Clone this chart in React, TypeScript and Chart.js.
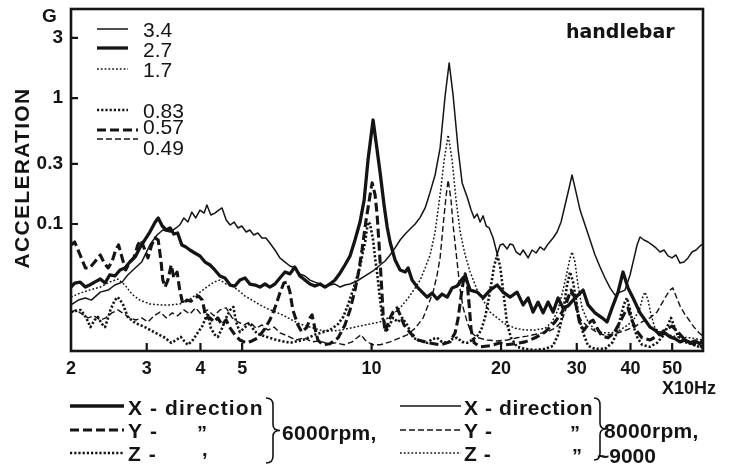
import { useEffect, useRef } from "react";
import { Chart, registerables } from "chart.js";

Chart.register(...registerables);

// Axis tick values (frequency in x10 Hz, acceleration in G)
const xTicks = [2, 3, 4, 5, 10, 20, 30, 40, 50];
const yTicks = [0.1, 0.3, 1, 3];

// 6000 rpm, X-direction (thick solid)
const x6000Freq = [2.00,2.04,2.10,2.16,2.21,2.27,2.34,2.40,2.46,2.53,2.60,2.67,2.74,2.82,2.89,2.97,3.05,3.14,3.19,3.26,3.33,3.40,3.47,3.54,3.62,3.70,3.78,3.88,3.99,4.10,4.21,4.32,4.44,4.56,4.69,4.81,4.94,5.08,5.21,5.36,5.50,5.65,5.80,5.96,6.12,6.29,6.46,6.63,6.81,7.00,7.19,7.38,7.59,7.79,8.00,8.22,8.45,8.67,8.91,9.15,9.40,9.61,9.81,10.08,10.30,10.47,10.69,10.87,11.04,11.34,11.65,11.97,12.16,12.42,12.77,13.11,13.46,13.83,14.20,14.58,14.99,15.39,15.81,16.24,16.50,16.95,17.60,18.17,18.86,19.59,20.22,20.99,21.79,22.51,23.12,23.74,24.39,25.05,25.72,26.42,27.14,27.87,28.64,29.41,30.20,31.03,31.87,33.08,34.35,35.28,36.24,37.42,38.43,39.47,40.55,42.09,43.24,44.41,45.61,46.85,48.12,49.42,50.76,52.14,53.55,55.01,56.50,58.03,58.97];
const x6000Acc = [0.0316,0.0340,0.0346,0.0316,0.0328,0.0346,0.0366,0.0340,0.0394,0.0387,0.0432,0.0448,0.0499,0.0548,0.0646,0.0747,0.0864,0.1037,0.1117,0.0964,0.0896,0.0930,0.0833,0.0849,0.0682,0.0657,0.0622,0.0589,0.0558,0.0499,0.0473,0.0432,0.0387,0.0373,0.0328,0.0322,0.0359,0.0373,0.0334,0.0328,0.0316,0.0334,0.0316,0.0334,0.0373,0.0416,0.0402,0.0456,0.0387,0.0359,0.0334,0.0322,0.0334,0.0316,0.0334,0.0359,0.0409,0.0473,0.0558,0.0747,0.1037,0.155,0.322,0.669,0.387,0.254,0.1416,0.0947,0.0720,0.0518,0.0432,0.0416,0.0448,0.0359,0.0316,0.0288,0.0263,0.0283,0.0254,0.0278,0.0263,0.0311,0.0322,0.0366,0.0387,0.0299,0.0288,0.0259,0.0299,0.0328,0.0288,0.0263,0.0288,0.0228,0.0259,0.0200,0.0240,0.0197,0.0240,0.0200,0.0259,0.0216,0.0224,0.0249,0.0273,0.0299,0.0228,0.0197,0.0180,0.0167,0.0216,0.0288,0.0416,0.0311,0.0259,0.0197,0.0173,0.0152,0.0144,0.0132,0.0136,0.0127,0.0123,0.0116,0.0120,0.0114,0.0118,0.0112,0.0120];

// 6000 rpm, Y-direction (thick dashed)
const y6000Freq = [2.00,2.04,2.10,2.16,2.21,2.27,2.34,2.39,2.44,2.49,2.54,2.58,2.63,2.68,2.74,2.80,2.86,2.91,2.97,3.02,3.08,3.14,3.19,3.24,3.27,3.31,3.36,3.42,3.47,3.53,3.58,3.64,3.72,3.80,3.88,3.96,4.04,4.12,4.21,4.30,4.39,4.49,4.59,4.69,4.81,4.94,5.11,5.27,5.44,5.62,5.80,5.96,6.12,6.25,6.36,6.46,6.56,6.74,6.88,7.08,7.19,7.27,7.38,7.50,7.71,8.00,8.36,8.67,8.91,9.15,9.30,9.50,9.71,9.92,10.03,10.19,10.30,10.41,10.53,10.64,10.75,11.04,11.28,11.46,11.65,11.90,12.29,12.83,13.54,14.43,15.22,15.64,15.90,16.16,16.33,16.50,16.68,16.86,17.04,17.32,17.88,18.86,19.90,20.44,21.56,22.75,24.00,25.32,26.71,27.73,28.48,29.10,29.57,30.04,30.53,31.19,32.21,32.73,33.44,34.35,35.47,36.63,37.82,38.85,39.47,40.12,41.21,42.54,44.41,46.10,48.12,49.95,51.58,53.55,55.90,58.97];
const y6000Acc = [0.0682,0.0720,0.0568,0.0448,0.0448,0.0499,0.0568,0.0490,0.0448,0.0499,0.0622,0.0682,0.0538,0.0432,0.0499,0.0538,0.0682,0.0747,0.0622,0.0538,0.0682,0.0775,0.0747,0.0499,0.0359,0.0316,0.0359,0.0473,0.0373,0.0416,0.0299,0.0232,0.0249,0.0244,0.0259,0.0268,0.0249,0.0180,0.0180,0.0167,0.0180,0.0158,0.0173,0.0149,0.0132,0.0120,0.0114,0.0118,0.0125,0.0144,0.0173,0.0216,0.0283,0.0340,0.0346,0.0288,0.0208,0.0158,0.0139,0.0152,0.0180,0.0190,0.0149,0.0120,0.0110,0.0112,0.0125,0.0158,0.0208,0.0299,0.0394,0.0622,0.1076,0.170,0.212,0.170,0.118,0.0682,0.0359,0.0190,0.0139,0.0180,0.0208,0.0216,0.0190,0.0158,0.0137,0.0120,0.0114,0.0110,0.0116,0.0137,0.0180,0.0273,0.0346,0.0402,0.0346,0.0228,0.0144,0.0114,0.0106,0.0108,0.0114,0.0110,0.0112,0.0116,0.0125,0.0139,0.0167,0.0200,0.0249,0.0299,0.0268,0.0208,0.0158,0.0144,0.0167,0.0173,0.0149,0.0129,0.0125,0.0137,0.0167,0.0200,0.0216,0.0180,0.0144,0.0125,0.0120,0.0129,0.0144,0.0155,0.0139,0.0120,0.0112,0.0106];

// 6000 rpm, Z-direction (thick dotted)
const z6000Freq = [2.00,2.05,2.11,2.17,2.22,2.27,2.31,2.36,2.40,2.44,2.47,2.53,2.57,2.64,2.71,2.82,2.97,3.14,3.31,3.42,3.51,3.60,3.68,3.74,3.84,3.94,4.04,4.16,4.23,4.32,4.39,4.49,4.59,4.69,4.77,4.84,4.94,5.05,5.21,5.32,5.44,5.71,6.02,6.46,6.92,7.46,8.00,8.36,8.59,8.81,9.05,9.25,9.40,9.55,9.66,9.81,9.92,10.08,10.19,10.30,10.47,10.58,10.87,11.22,11.52,11.78,12.10,12.49,12.97,13.46,13.83,14.20,14.58,14.99,15.39,15.81,16.24,16.68,17.13,17.60,17.98,18.37,18.66,18.96,19.27,19.59,19.90,20.22,20.44,20.66,21.10,21.79,22.75,24.00,25.32,26.42,27.14,27.58,28.03,28.48,28.94,29.41,29.88,30.36,31.03,31.87,33.08,34.90,36.24,37.22,38.02,38.64,39.27,39.90,40.55,41.43,42.54,44.41,46.10,47.86,48.90,49.69,50.5,51.58,53.55,55.90,58.97];
const z6000Acc = [0.0200,0.0204,0.0208,0.0180,0.0152,0.0173,0.0183,0.0161,0.0152,0.0180,0.0208,0.0249,0.0263,0.0232,0.0183,0.0164,0.0152,0.0137,0.0125,0.0114,0.0120,0.0127,0.0116,0.0110,0.0120,0.0137,0.0155,0.0197,0.0149,0.0132,0.0127,0.0149,0.0180,0.0208,0.0220,0.0167,0.0139,0.0149,0.0164,0.0144,0.0134,0.0127,0.0120,0.0114,0.0120,0.0134,0.0144,0.0161,0.0183,0.0228,0.0299,0.0380,0.0456,0.0600,0.0720,0.1037,0.1000,0.0747,0.0538,0.0409,0.0249,0.0183,0.0144,0.0180,0.0167,0.0180,0.0158,0.0125,0.0118,0.0114,0.0122,0.0125,0.0116,0.0114,0.0122,0.0125,0.0116,0.0114,0.0120,0.0129,0.0144,0.0183,0.0240,0.0328,0.0464,0.0568,0.0464,0.0299,0.0220,0.0161,0.0125,0.0106,0.0102,0.0100,0.0102,0.0108,0.0132,0.0167,0.0228,0.0328,0.0416,0.0346,0.0249,0.0180,0.0137,0.0108,0.0102,0.0102,0.0114,0.0137,0.0190,0.0232,0.0259,0.0208,0.0158,0.0127,0.0110,0.0106,0.0114,0.0132,0.0158,0.0180,0.0155,0.0129,0.0116,0.0110,0.0104];

// 8000-9000 rpm, X-direction (thin solid)
const x8000Freq = [2.00,2.08,2.16,2.23,2.34,2.44,2.53,2.63,2.71,2.82,2.92,3.05,3.17,3.27,3.40,3.51,3.58,3.66,3.74,3.82,3.90,3.99,4.08,4.14,4.23,4.32,4.41,4.49,4.59,4.69,4.79,4.89,4.99,5.11,5.21,5.32,5.44,5.56,5.68,5.80,5.96,6.12,6.29,6.46,6.63,6.81,7.00,7.19,7.38,7.59,7.79,8.00,8.22,8.45,8.67,8.91,9.25,9.66,10.08,10.47,10.75,11.04,11.34,11.65,11.97,12.29,12.63,12.97,13.32,13.68,14.05,14.43,14.83,15.15,15.47,15.90,16.24,16.68,17.04,17.32,17.60,17.88,18.17,18.47,18.77,19.17,19.59,19.90,20.22,20.66,20.99,21.33,21.68,22.15,22.51,23.12,23.61,24.13,24.65,25.18,25.73,26.42,27.00,27.58,28.18,28.79,29.25,29.88,30.53,31.36,32.21,33.08,33.98,34.90,35.85,36.82,37.82,38.85,39.90,40.77,41.43,42.09,42.99,43.95,44.89,45.85,46.85,47.86,48.90,49.95,51.03,52.14,53.26,54.42,55.60,56.80,58.03,58.97];
const x8000Acc = [0.0228,0.0249,0.0259,0.0249,0.0288,0.0299,0.0328,0.0346,0.0394,0.0448,0.0499,0.0682,0.0818,0.0896,0.0864,0.0930,0.0982,0.1117,0.1037,0.1244,0.1117,0.129,0.1222,0.1416,0.118,0.1222,0.129,0.1341,0.1076,0.0982,0.1037,0.0930,0.0964,0.0864,0.0896,0.0818,0.0849,0.0775,0.0775,0.0707,0.0622,0.0538,0.0499,0.0464,0.0448,0.0401,0.0387,0.0359,0.0346,0.0334,0.0322,0.0328,0.0334,0.0316,0.0328,0.0334,0.0353,0.0387,0.0424,0.0473,0.0509,0.0568,0.0646,0.0747,0.0833,0.0912,0.1000,0.113,0.1341,0.179,0.245,0.400,1.056,1.90,1.056,0.387,0.212,0.164,0.129,0.1117,0.120,0.1037,0.116,0.0964,0.0930,0.0775,0.0578,0.0682,0.0695,0.0634,0.0695,0.0682,0.0600,0.0568,0.0622,0.0538,0.0622,0.0589,0.0658,0.0622,0.0695,0.0775,0.0864,0.1037,0.1416,0.193,0.245,0.179,0.129,0.0982,0.0747,0.0568,0.0456,0.0373,0.0311,0.0273,0.0288,0.0299,0.0394,0.0538,0.0682,0.0789,0.0747,0.0720,0.0682,0.0646,0.0600,0.0622,0.0558,0.0538,0.0568,0.0490,0.0499,0.0538,0.0600,0.0622,0.0670,0.0695];

// 8000-9000 rpm, Y-direction (thin dashed)
const y8000Freq = [2.00,2.05,2.12,2.19,2.26,2.34,2.41,2.49,2.57,2.66,2.74,2.83,2.92,3.02,3.12,3.22,3.33,3.44,3.54,3.66,3.78,3.90,4.01,4.16,4.30,4.44,4.59,4.74,4.89,5.05,5.21,5.39,5.56,5.74,5.93,6.12,6.39,6.67,6.96,7.27,7.59,7.92,8.26,8.63,9.01,9.25,9.45,9.66,10.03,10.47,11.04,11.65,12.10,12.63,13.18,13.54,13.90,14.20,14.43,14.67,14.91,15.07,15.30,15.47,15.81,16.07,16.33,16.68,17.04,17.69,18.57,19.59,20.66,21.79,22.99,24.26,25.59,26.71,27.58,28.18,28.64,29.10,29.57,30.04,30.69,31.70,33.08,34.53,35.85,37.42,39.06,40.77,42.54,44.41,46.10,47.10,48.38,49.42,50.18,51.03,52.14,53.26,54.72,56.20,57.72,58.97];
const y8000Acc = [0.0197,0.0208,0.0193,0.0180,0.0187,0.0173,0.0180,0.0197,0.0208,0.0193,0.0180,0.0173,0.0180,0.0167,0.0187,0.0200,0.0180,0.0197,0.0187,0.0208,0.0193,0.0216,0.0193,0.0208,0.0187,0.0208,0.0216,0.0180,0.0167,0.0158,0.0167,0.0149,0.0158,0.0144,0.0152,0.0137,0.0129,0.0120,0.0125,0.0116,0.0118,0.0112,0.0114,0.0110,0.0116,0.0125,0.0132,0.0120,0.0110,0.0110,0.0116,0.0125,0.0132,0.0149,0.0180,0.0228,0.0288,0.0394,0.0538,0.0982,0.170,0.224,0.155,0.0982,0.0499,0.0299,0.0216,0.0167,0.0137,0.0125,0.0120,0.0118,0.0120,0.0125,0.0129,0.0134,0.0139,0.0149,0.0167,0.0200,0.0249,0.0288,0.0249,0.0200,0.0173,0.0155,0.0141,0.0132,0.0132,0.0137,0.0144,0.0152,0.0167,0.0180,0.0200,0.0228,0.0268,0.0299,0.0311,0.0268,0.0224,0.0197,0.0173,0.0152,0.0137,0.0129];

// 8000-9000 rpm, Z-direction (thin dotted)
const z8000Freq = [2.00,2.10,2.21,2.34,2.46,2.57,2.67,2.77,2.89,3.05,3.22,3.40,3.58,3.78,3.99,4.14,4.30,4.44,4.59,4.74,4.89,5.08,5.27,5.50,5.74,5.99,6.26,6.53,6.81,7.19,7.59,8.00,8.45,8.91,9.40,9.92,10.47,11.04,11.65,12.17,12.63,12.97,13.32,13.68,14.05,14.43,14.75,15.07,15.39,15.72,16.07,16.50,16.95,17.60,18.17,18.86,19.59,20.44,21.56,22.75,24.00,25.32,26.28,27.14,27.87,28.48,28.94,29.25,29.72,30.20,30.86,31.87,33.08,34.53,36.23,37.82,39.47,40.99,42.09,42.77,43.24,43.94,44.65,45.61,46.85,48.90,51.58,55.01,58.97];
const z8000Acc = [0.0263,0.0283,0.0299,0.0316,0.0346,0.0366,0.0328,0.0278,0.0249,0.0232,0.0228,0.0228,0.0232,0.0254,0.0288,0.0316,0.0346,0.0359,0.0334,0.0322,0.0299,0.0268,0.0249,0.0228,0.0212,0.0200,0.0187,0.0173,0.0161,0.0152,0.0144,0.0141,0.0144,0.0149,0.0155,0.0161,0.0167,0.0183,0.0216,0.0259,0.0311,0.0359,0.0448,0.0568,0.0864,0.170,0.322,0.509,0.322,0.155,0.0864,0.0568,0.0416,0.0299,0.0249,0.0200,0.0180,0.0161,0.0149,0.0144,0.0144,0.0149,0.0167,0.0208,0.0299,0.0416,0.0538,0.0600,0.0499,0.0328,0.0216,0.0167,0.0144,0.0137,0.0137,0.0144,0.0158,0.0180,0.0216,0.0268,0.0288,0.0249,0.0190,0.0149,0.0139,0.0132,0.0127,0.0125,0.0120];

// Scale factors printed in the inner key
const keyLabels = ["3.4", "2.7", "1.7", "0.83", "0.57", "0.49"];

const INK = "#141414";
const SANS = '"Liberation Sans", Arial, sans-serif';

type LineStyle = { width: number; dash: number[] };
const THICK_SOLID: LineStyle = { width: 3.3, dash: [] };
const THICK_DASH: LineStyle = { width: 3.1, dash: [9, 4] };
const THICK_DOT: LineStyle = { width: 2.6, dash: [2.2, 2] };
const THIN_SOLID: LineStyle = { width: 1.5, dash: [] };
const THIN_DASH: LineStyle = { width: 1.4, dash: [6, 3] };
const THIN_DOT: LineStyle = { width: 1.5, dash: [1.8, 2] };

const toPoints = (f: number[], a: number[]) => f.map((x, i) => ({ x, y: a[i] }));

function strokeKeyLine(ctx: CanvasRenderingContext2D, x0: number, x1: number, y: number, s: LineStyle) {
  ctx.save();
  ctx.strokeStyle = INK;
  ctx.lineWidth = s.width;
  ctx.setLineDash(s.dash);
  ctx.beginPath();
  ctx.moveTo(x0, y);
  ctx.lineTo(x1, y);
  ctx.stroke();
  ctx.restore();
}

function brace(ctx: CanvasRenderingContext2D, x: number, top: number, bottom: number, w: number) {
  const mid = (top + bottom) / 2;
  const m = x + w / 2;
  ctx.save();
  ctx.strokeStyle = INK;
  ctx.lineWidth = 1.6;
  ctx.beginPath();
  ctx.moveTo(x, top);
  ctx.quadraticCurveTo(m, top, m, top + 7);
  ctx.lineTo(m, mid - 6);
  ctx.quadraticCurveTo(m, mid, x + w, mid);
  ctx.quadraticCurveTo(m, mid, m, mid + 6);
  ctx.lineTo(m, bottom - 7);
  ctx.quadraticCurveTo(m, bottom, x, bottom);
  ctx.stroke();
  ctx.restore();
}

function text(ctx: CanvasRenderingContext2D, s: string, x: number, y: number, font: string, spacing = 0, align: CanvasTextAlign = "left") {
  ctx.save();
  ctx.fillStyle = INK;
  ctx.font = font;
  (ctx as any).letterSpacing = spacing + "px";
  ctx.textAlign = align;
  ctx.textBaseline = "alphabetic";
  ctx.fillText(s, x, y);
  ctx.restore();
}

const decorations = {
  id: "decorations",
  beforeDraw(chart: Chart) {
    const ctx = chart.ctx;
    ctx.save();
    ctx.fillStyle = "#ffffff";
    ctx.fillRect(0, 0, chart.width, chart.height);
    ctx.restore();
  },
  afterDatasetsDraw(chart: Chart) {
    const ctx = chart.ctx;
    const { left, top, right, bottom } = chart.chartArea;
    const xs = chart.scales.x;
    const ys = chart.scales.y;

    // frame
    ctx.save();
    ctx.strokeStyle = INK;
    ctx.lineWidth = 2.6;
    ctx.strokeRect(left, top, right - left, bottom - top);

    // inward tick marks
    ctx.lineWidth = 2.2;
    ctx.beginPath();
    xTicks.forEach((v) => {
      const px = xs.getPixelForValue(v);
      if (px > left + 2) {
        ctx.moveTo(px, bottom);
        ctx.lineTo(px, bottom - 8);
      }
    });
    yTicks.forEach((v) => {
      const py = ys.getPixelForValue(v);
      ctx.moveTo(left, py);
      ctx.lineTo(left + 7, py);
    });
    ctx.stroke();
    ctx.restore();

    // axis titles and panel name
    text(ctx, "G", 42, 22, `bold 19px ${SANS}`);
    ctx.save();
    ctx.translate(29, 178);
    ctx.rotate(-Math.PI / 2);
    text(ctx, "ACCELERATION", 0, 0, `bold 21px ${SANS}`, 1.3, "center");
    ctx.restore();
    text(ctx, "handlebar", 566, 38, `bold 19px "DejaVu Sans", sans-serif`);
    text(ctx, "X10Hz", 662, 394, `bold 18px ${SANS}`);

    // inner key: line samples with scale factors
    const keyStyles = [THIN_SOLID, THICK_SOLID, THIN_DOT, THICK_DOT, THICK_DASH, THIN_DASH];
    const keyLineY = [29, 48, 69, 110, 130, 139];
    const keyEnd = [128, 128, 128, 128, 138, 138];
    const keyBase = [37, 57, 77, 118, 134, 155];
    keyStyles.forEach((s, i) => {
      strokeKeyLine(ctx, 97, keyEnd[i], keyLineY[i], s);
      text(ctx, keyLabels[i], 143, keyBase[i], `21px ${SANS}`);
    });

    // bottom key
    const rowY = [406, 430, 453];
    const rowBase = [415, 438, 461];
    const dirs = ["X - direction", "Y -", "Z -"];
    [THICK_SOLID, THICK_DASH, THICK_DOT].forEach((s, i) => {
      strokeKeyLine(ctx, 70, 124, rowY[i], s);
      text(ctx, dirs[i], 128, rowBase[i], `bold 21px ${SANS}`, 1.1);
    });
    text(ctx, "\u201D", 197, 440, `bold 20px ${SANS}`);
    text(ctx, ",", 202, 456, `bold 20px ${SANS}`);
    brace(ctx, 266, 398, 463, 14);
    text(ctx, "6000rpm,", 282, 440, `bold 21px ${SANS}`, 0.3);

    [THIN_SOLID, THIN_DASH, THIN_DOT].forEach((s, i) => {
      strokeKeyLine(ctx, 400, 461, rowY[i], s);
      text(ctx, dirs[i], 464, rowBase[i], `bold 21px ${SANS}`, 0.6);
    });
    text(ctx, "\u201D", 570, 440, `bold 20px ${SANS}`);
    text(ctx, "\u201D", 572, 463, `bold 20px ${SANS}`);
    brace(ctx, 594, 398, 460, 12);
    text(ctx, "8000rpm,", 604, 438, `bold 21px ${SANS}`, 0.3);
    text(ctx, "~9000", 597, 463, `bold 21px ${SANS}`);
  },
};

export default function App() {
  const ref = useRef<HTMLCanvasElement | null>(null);

  useEffect(() => {
    if (!ref.current) return;
    const ds = (f: number[], a: number[], s: LineStyle) => ({
      data: toPoints(f, a),
      borderColor: INK,
      borderWidth: s.width,
      borderDash: s.dash,
      pointRadius: 0,
      tension: 0,
      fill: false,
    });

    const chart = new Chart(ref.current, {
      type: "line",
      data: {
        datasets: [
          ds(x8000Freq, x8000Acc, THIN_SOLID),
          ds(y8000Freq, y8000Acc, THIN_DASH),
          ds(z8000Freq, z8000Acc, THIN_DOT),
          ds(z6000Freq, z6000Acc, THICK_DOT),
          ds(y6000Freq, y6000Acc, THICK_DASH),
          ds(x6000Freq, x6000Acc, THICK_SOLID),
        ],
      },
      options: {
        responsive: false,
        animation: false,
        devicePixelRatio: 1,
        layout: { padding: { left: 0, top: 9, right: 29, bottom: 0 } },
        plugins: { legend: { display: false }, tooltip: { enabled: false } },
        elements: { line: { borderCapStyle: "butt", borderJoinStyle: "round" } },
        scales: {
          x: {
            type: "logarithmic",
            min: 2,
            max: 58.97,
            afterBuildTicks: (s: any) => {
              s.ticks = xTicks.map((value) => ({ value }));
            },
            afterFit: (s: any) => {
              s.height = 117;
              s.paddingLeft = 0;
              s.paddingRight = 0;
            },
            grid: { display: false, drawTicks: false },
            border: { display: false },
            ticks: {
              autoSkip: false,
              maxRotation: 0,
              padding: 7,
              color: INK,
              font: { family: SANS, size: 18, weight: "bold" },
              callback: (v: any) => String(v),
            },
          },
          y: {
            type: "logarithmic",
            min: 0.00982,
            max: 5.09,
            afterBuildTicks: (s: any) => {
              s.ticks = yTicks.map((value) => ({ value }));
            },
            afterFit: (s: any) => {
              s.width = 71;
              s.paddingTop = 0;
              s.paddingBottom = 0;
            },
            grid: { display: false, drawTicks: false },
            border: { display: false },
            ticks: {
              autoSkip: false,
              padding: 8,
              color: INK,
              font: { family: SANS, size: 19, weight: "bold" },
              callback: (v: any) => String(v),
            },
          },
        },
      },
      plugins: [decorations],
    });
    return () => chart.destroy();
  }, []);

  return (
    <div style={{ position: "fixed", left: 0, top: 0, width: 732, height: 468, background: "#fff" }}>
      <canvas ref={ref} width={732} height={468} style={{ display: "block" }} />
    </div>
  );
}
